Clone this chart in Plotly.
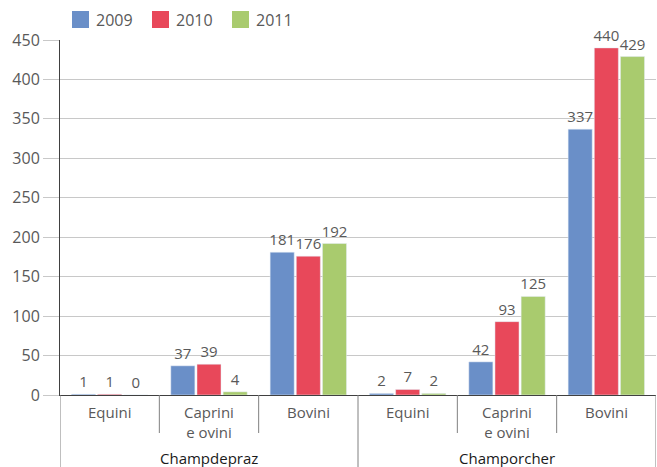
import plotly.graph_objects as go

categories = ["Equini", "Caprini<br>e ovini", "Bovini", "Equini", "Caprini<br>e ovini", "Bovini"]
groups = ["Champdepraz", "Champorcher"]
years = ["2009", "2010", "2011"]
values_2009 = [1, 37, 181, 2, 42, 337]
values_2010 = [1, 39, 176, 7, 93, 440]
values_2011 = [0, 4, 192, 2, 125, 429]
colors = ["#6A8FC8", "#E8485A", "#A9CB6E"]

FONT = "Open Sans"
GREY = "#595959"
x = list(range(len(categories)))

# plot area in pixels: x 60..656, y 40..395
L, R, T, B = 60, 656, 40, 395


def px_x(p):
    return (p - L) / (R - L)


def px_y(p):
    return (B - p) / (B - T)


fig = go.Figure()
for name, vals, col in zip(years, [values_2009, values_2010, values_2011], colors):
    fig.add_trace(go.Bar(
        x=x, y=vals, name=name, marker_color=col,
        text=[str(v) for v in vals], textposition="outside",
        textfont=dict(size=15, color=GREY, family=FONT),
        constraintext="none", cliponaxis=False, showlegend=False,
    ))

# legend drawn by hand (large squares)
for k, (name, col) in enumerate(zip(years, colors)):
    x0 = 72 + 80 * k
    fig.add_shape(type="rect", xref="paper", yref="paper",
                  x0=px_x(x0), x1=px_x(x0 + 17), y0=px_y(28), y1=px_y(11),
                  fillcolor=col, line=dict(width=0))
    fig.add_annotation(xref="paper", yref="paper", x=px_x(x0 + 22), y=px_y(19.5),
                       text=name, showarrow=False, xanchor="left", yanchor="middle",
                       font=dict(size=16, color=GREY, family=FONT))

# category labels under the axis
for i, c in enumerate(categories):
    fig.add_annotation(x=i, y=px_y(400), xref="x", yref="paper", text=c,
                       showarrow=False, yanchor="top",
                       font=dict(size=15, color=GREY, family=FONT))
for j, g in enumerate(groups):
    fig.add_annotation(x=3 * j + 1, y=px_y(446), xref="x", yref="paper", text=g,
                       showarrow=False, yanchor="top",
                       font=dict(size=15, color="#1a1a1a", family=FONT))

# divider lines below the axis
for xv in [0.5, 1.5, 3.5, 4.5]:
    fig.add_shape(type="line", x0=xv, x1=xv, y0=0, y1=px_y(433), xref="x", yref="paper",
                  line=dict(color="#808080", width=1))
for xv in [-0.5, 2.5, 5.5]:
    fig.add_shape(type="line", x0=xv, x1=xv, y0=0, y1=px_y(467), xref="x", yref="paper",
                  line=dict(color="#808080", width=1))

fig.update_layout(
    width=657, height=467,
    margin=dict(l=L, r=657 - R, t=T, b=467 - B, autoexpand=False),
    paper_bgcolor="white", plot_bgcolor="white",
    barmode="group", bargap=0.21, bargroupgap=0.08,
    font=dict(family=FONT, color=GREY, size=16),
    showlegend=False,
    xaxis=dict(range=[-0.5, 5.5], showticklabels=False, showgrid=False,
               showline=True, linecolor="#404040", linewidth=1, zeroline=False),
    yaxis=dict(range=[0, 450], dtick=50, showgrid=True, gridcolor="#C8C8C8",
               showline=True, linecolor="#404040", linewidth=1,
               ticks="outside", ticklen=16, tickcolor="#C8C8C8",
               tickfont=dict(size=16, color=GREY, family=FONT), zeroline=False),
)

# the page body has a default 8px margin; remove it so the figure fills the window
fig.write_html("out.html", config={"displayModeBar": False},
               post_script="document.body.style.margin='0';")
